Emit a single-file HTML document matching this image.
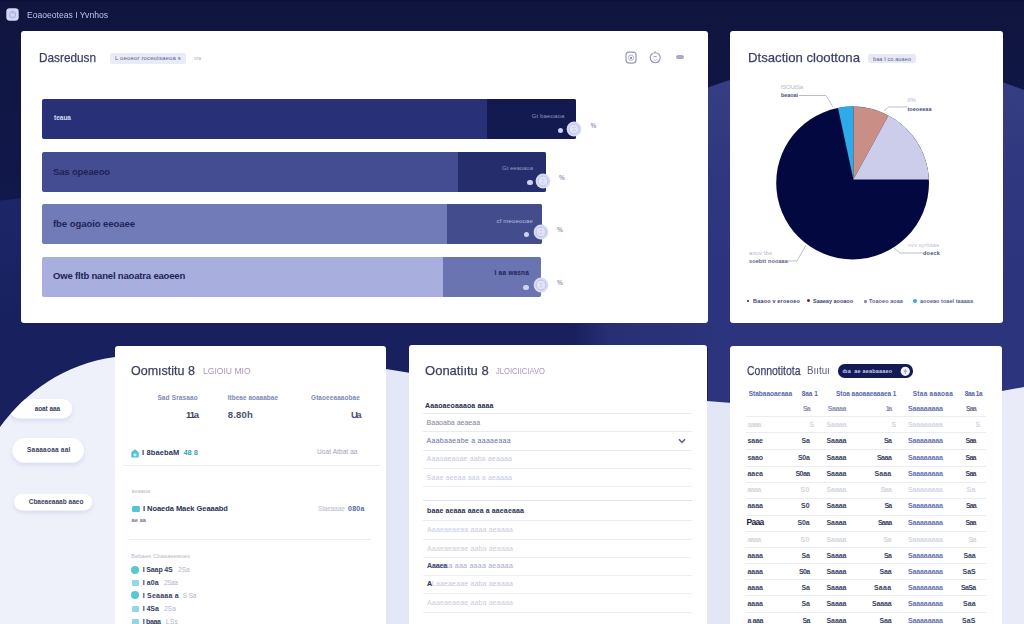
<!DOCTYPE html>
<html><head><meta charset="utf-8">
<style>
*{box-sizing:border-box;margin:0;padding:0}
html,body{width:1024px;height:624px;overflow:hidden}
body{font-family:"Liberation Sans",sans-serif;background:#121744;position:relative;color:#2b2f55}
#bg{position:absolute;left:0;top:0;width:1024px;height:624px}
.t{position:absolute;white-space:pre;line-height:1.12}
.bar{position:absolute;left:42px;height:40.3px;border-radius:2px;overflow:hidden}
.bar i{position:absolute;right:0;top:0;bottom:0;display:block}
</style></head><body>
<svg id="bg" viewBox="0 0 1024 624">
<defs>
<linearGradient id="g0" x1="0" y1="0" x2="0" y2="1"><stop offset="0" stop-color="#0f153e"/><stop offset="1" stop-color="#11184b"/></linearGradient>
<linearGradient id="gs" gradientUnits="userSpaceOnUse" x1="575" y1="0" x2="725" y2="0"><stop offset="0" stop-color="#18215e"/><stop offset="0.22" stop-color="#272f74"/><stop offset="1" stop-color="#2b347d"/></linearGradient>
<linearGradient id="gl" x1="0" y1="0" x2="0" y2="1"><stop offset="0" stop-color="#1d2668"/><stop offset="0.3" stop-color="#18215e"/><stop offset="1" stop-color="#18205c"/></linearGradient>
<linearGradient id="gh" gradientUnits="userSpaceOnUse" x1="0" y1="0" x2="1024" y2="0"><stop offset="0" stop-color="#eff1fa"/><stop offset="0.12" stop-color="#eef0fa"/><stop offset="0.38" stop-color="#e4e7f6"/><stop offset="0.72" stop-color="#e3e6f5"/><stop offset="1" stop-color="#e9ebf8"/></linearGradient>
<linearGradient id="gr" gradientUnits="userSpaceOnUse" x1="0" y1="60" x2="0" y2="270"><stop offset="0" stop-color="#383f84"/><stop offset="0.45" stop-color="#30397f"/><stop offset="1" stop-color="#2b347d"/></linearGradient>
<clipPath id="hc"><path d="M0 427 C 26 392, 64 364, 115 357 C 200 338, 300 352, 386 369 C 500 388, 620 396, 707 401 C 800 409, 900 411, 1002 391 L 1024 387 L1024 624 L0 624Z"/></clipPath>
<filter id="sh" x="-20%" y="-40%" width="140%" height="200%"><feGaussianBlur stdDeviation="2.2"/></filter>
</defs>
<rect width="1024" height="624" fill="#11184b"/>
<rect width="1024" height="200" fill="url(#g0)"/>
<rect width="1024" height="1.5" fill="#0b1034"/>
<path d="M0 200.5 C 8 200, 15 199, 21 198 L 708 198 L708 624 L0 624Z" fill="url(#gl)"/>
<path d="M708 87.5 C 735 78, 790 58, 866 58 C 930 58, 985 75, 1024 90 L1024 624 L708 624Z" fill="url(#gr)"/>
<rect x="0" y="322" width="1024" height="25" fill="url(#gs)"/>
<path d="M0 427 C 26 392, 64 364, 115 357 C 200 338, 300 352, 386 369 C 500 388, 620 396, 707 401 C 800 409, 900 411, 1002 391 L 1024 387 L1024 624 L0 624Z" fill="url(#gh)"/>
<g clip-path="url(#hc)">
<g fill="#8c94c8" opacity="0.22" filter="url(#sh)">
<rect x="9.5" y="401.5" width="62.7" height="19.6" rx="9.8"/>
<rect x="12.3" y="440.5" width="71.7" height="24.8" rx="12.4"/>
<rect x="14" y="496" width="78.4" height="16.8" rx="8.4"/>
</g>
<g fill="#ffffff">
<rect x="9.5" y="399" width="62.7" height="19.6" rx="9.8"/>
<rect x="12.3" y="438" width="71.7" height="24.8" rx="12.4"/>
<rect x="14" y="493.7" width="78.4" height="16.8" rx="8.4"/>
</g>
</g>
</svg>
<svg style="position:absolute;left:5.5px;top:7.5px" width="13" height="13" viewBox="0 0 13 13"><rect x="0.3" y="0.3" width="12.4" height="12.4" rx="3.4" fill="#d3d6f5"/><circle cx="6.5" cy="6.7" r="3" fill="none" stroke="#aeb3e2" stroke-width="1.2"/><rect x="5.9" y="2.6" width="1.2" height="3.4" fill="#aeb3e2"/></svg>
<div class="t" style="left:27.0px;top:9.5px;font-size:9.5px;color:#bcc1e6;transform-origin:0 50%;transform:scaleX(0.904);">Eoaoeoteas I Yvnhos</div>
<div style="position:absolute;left:21.0px;top:31.0px;width:686.5px;height:291.7px;background:#fff;border-radius:3px;"></div>
<div class="t" style="left:39.0px;top:50.4px;font-size:13.5px;color:#3a3f63;transform-origin:0 50%;transform:scaleX(0.873);-webkit-text-stroke:0.25px #3a3f63;">Dasredusn</div>
<div style="position:absolute;left:109.5px;top:53.0px;width:76.5px;height:10.5px;background:#e9ebf6;border-radius:2px;"></div>
<div class="t" style="left:115.0px;top:54.8px;font-size:6px;color:#5d6290;letter-spacing:0.14px;">L oeoeor roceutsaeoa s</div>
<div class="t" style="left:194.0px;top:55.7px;font-size:5px;color:#a9adc8;letter-spacing:0.02px;">vra</div>
<div class="bar" style="top:99px;width:534.3px;background:#283177"><i style="width:88.9px;background:#131a4f"></i></div>
<div class="bar" style="top:151.6px;width:504.0px;background:#454d92"><i style="width:88.3px;background:#252d6c"></i></div>
<div class="bar" style="top:204px;width:499.5px;background:#717bb8"><i style="width:94.2px;background:#434c8c"></i></div>
<div class="bar" style="top:256.8px;width:498.7px;background:#a8aedd"><i style="width:97.9px;background:#6a74b1"></i></div>
<div class="t" style="left:54.0px;top:114.0px;font-size:6.5px;color:#d9dcf2;letter-spacing:0.00px;font-weight:bold;">teaua</div>
<div class="t" style="left:53.0px;top:166.5px;font-size:9.5px;color:#1d2255;letter-spacing:-0.15px;font-weight:bold;">Sas opeaeoo</div>
<div class="t" style="left:53.0px;top:218.9px;font-size:9.5px;color:#1e2358;letter-spacing:-0.05px;font-weight:bold;">fbe ogaoio eeoaee</div>
<div class="t" style="left:53.0px;top:271.0px;font-size:9.5px;color:#1e2358;letter-spacing:-0.18px;font-weight:bold;">Owe fltb nanel naoatra eaoeen</div>
<div class="t" style="left:531.7px;top:112.6px;font-size:6px;color:#8e94c4;letter-spacing:0.14px;">Gt baeoaoa</div>
<div class="t" style="left:502.0px;top:165.1px;font-size:6px;color:#9298c8;letter-spacing:-0.04px;">Gt eeaoaoa</div>
<div class="t" style="left:496.5px;top:217.6px;font-size:6px;color:#b9bee4;letter-spacing:0.16px;">cf meoeooae</div>
<div class="t" style="left:494.6px;top:269.4px;font-size:6.5px;color:#20255a;letter-spacing:0.19px;font-weight:bold;">I aa wasna</div>
<svg style="position:absolute;left:565.3px;top:120.4px" width="18" height="18" viewBox="-9 -9 18 18"><circle r="7.4" fill="#d8dbf4"/><circle r="4.9" fill="#e3e5f8" stroke="#bcc0e8" stroke-width="1"/><path d="M-2 -1.5h4M-2 1.5h4M0 -3v6" stroke="#cfd2f0" stroke-width="0.9"/></svg>
<svg style="position:absolute;left:533.6px;top:172.0px" width="18" height="18" viewBox="-9 -9 18 18"><circle r="7.4" fill="#d8dbf4"/><circle r="4.9" fill="#e3e5f8" stroke="#bcc0e8" stroke-width="1"/><path d="M-2 -1.5h4M-2 1.5h4M0 -3v6" stroke="#cfd2f0" stroke-width="0.9"/></svg>
<svg style="position:absolute;left:531.5px;top:223.4px" width="18" height="18" viewBox="-9 -9 18 18"><circle r="7.4" fill="#d8dbf4"/><circle r="4.9" fill="#e3e5f8" stroke="#bcc0e8" stroke-width="1"/><path d="M-2 -1.5h4M-2 1.5h4M0 -3v6" stroke="#cfd2f0" stroke-width="0.9"/></svg>
<svg style="position:absolute;left:531.5px;top:276.3px" width="18" height="18" viewBox="-9 -9 18 18"><circle r="7.4" fill="#d8dbf4"/><circle r="4.9" fill="#e3e5f8" stroke="#bcc0e8" stroke-width="1"/><path d="M-2 -1.5h4M-2 1.5h4M0 -3v6" stroke="#cfd2f0" stroke-width="0.9"/></svg>
<div style="position:absolute;left:557.8px;top:128.3px;width:5.6px;height:5.0px;background:#ced1f0;border-radius:3px;"></div>
<div style="position:absolute;left:527.0px;top:180.0px;width:5.6px;height:5.0px;background:#ced1f0;border-radius:3px;"></div>
<div style="position:absolute;left:523.6px;top:232.0px;width:5.6px;height:5.0px;background:#ced1f0;border-radius:3px;"></div>
<div style="position:absolute;left:523.2px;top:284.5px;width:5.6px;height:5.0px;background:#ced1f0;border-radius:3px;"></div>
<div class="t" style="left:590.4px;top:122.2px;font-size:6.5px;color:#9599c0;letter-spacing:-0.38px;font-weight:bold;">%</div>
<div class="t" style="left:559.0px;top:173.7px;font-size:6.5px;color:#9599c0;letter-spacing:-0.38px;font-weight:bold;">%</div>
<div class="t" style="left:557.0px;top:226.2px;font-size:6.5px;color:#9599c0;letter-spacing:-0.38px;font-weight:bold;">%</div>
<div class="t" style="left:557.0px;top:278.5px;font-size:6.5px;color:#9599c0;letter-spacing:-0.38px;font-weight:bold;">%</div>
<svg style="position:absolute;left:624px;top:50px" width="66" height="16" viewBox="624 50 66 16" fill="none" stroke="#9397b8" stroke-width="1.15"><rect x="626" y="52.1" width="10" height="11" rx="3"/><circle cx="631" cy="57.7" r="2.6" stroke-width="0.9" stroke="#a9acc8"/><circle cx="631" cy="57.9" r="1.1" fill="#8084ab" stroke="none"/><circle cx="655.2" cy="57.7" r="5"/><path d="M655.2 51.2v1.6M653.6 56.6h3.2" stroke-width="0.9"/><path d="M652.6 59.6 q2.6 1.6 5.2 0" stroke-width="0.7" stroke="#b5b8d0"/></svg>
<div style="position:absolute;left:676.0px;top:54.6px;width:8.0px;height:4.2px;background:#9a9ec0;border-radius:2px;opacity:.85;"></div>
<div style="position:absolute;left:729.8px;top:31.0px;width:272.8px;height:291.7px;background:#fff;border-radius:3px;"></div>
<div class="t" style="left:747.7px;top:50.4px;font-size:13.5px;color:#3a3f66;transform-origin:0 50%;transform:scaleX(0.975);-webkit-text-stroke:0.25px #3a3f66;">Dtsaction cloottona</div>
<div style="position:absolute;left:868.0px;top:53.6px;width:47.8px;height:9.8px;background:#e6e8f4;border-radius:2px;"></div>
<div class="t" style="left:873.0px;top:55.5px;font-size:5.5px;color:#5d6290;letter-spacing:0.12px;">baa I co.auaeo</div>
<svg style="position:absolute;left:730px;top:70px" width="272" height="250" viewBox="730 70 272 250">
<circle cx="852.6" cy="183" r="76.4" fill="#040840"/>
<path d="M853.4 179.6 L838 108 A76.4 76.4 0 0 1 853.6 106.6 Z" fill="#2caae9"/>
<path d="M853.4 179.6 L853.6 106.6 A76.4 76.4 0 0 1 888.5 115.5 Z" fill="#c98f86"/>
<path d="M853.4 179.6 L888.5 115.5 A76.4 76.4 0 0 1 928.9 179.6 Z" fill="#cbcdea"/>
<g fill="none" stroke="#9aa0b8" stroke-width="0.7">
<path d="M799 95.5 H826 L833 107"/>
<path d="M884 111 L888.5 107 H907"/>
<path d="M894 248 L900 253 H923"/>
<path d="M788 261 H797 L806 245"/>
</g>
</svg>
<div class="t" style="left:781.0px;top:83.6px;font-size:6px;color:#b3b6cc;letter-spacing:-0.19px;">lSOUtSa</div>
<div class="t" style="left:781.0px;top:91.9px;font-size:5.5px;color:#4a4f78;letter-spacing:-0.07px;font-weight:bold;">beaoai</div>
<div class="t" style="left:907.5px;top:96.6px;font-size:6px;color:#b3b6cc;letter-spacing:0.05px;">lI%</div>
<div class="t" style="left:907.5px;top:105.9px;font-size:5.5px;color:#4a4f78;letter-spacing:0.02px;font-weight:bold;">toeoeeaa</div>
<div class="t" style="left:908.0px;top:241.6px;font-size:6px;color:#c3c6d8;letter-spacing:-0.06px;">vvv syrltaaa</div>
<div class="t" style="left:923.0px;top:249.9px;font-size:5.5px;color:#4a4f78;letter-spacing:0.22px;font-weight:bold;">doeck</div>
<div class="t" style="left:749.0px;top:249.6px;font-size:6px;color:#b3b6cc;letter-spacing:0.08px;">avuv tbs</div>
<div class="t" style="left:749.0px;top:257.9px;font-size:5.5px;color:#5a5f88;letter-spacing:0.13px;font-weight:bold;">soebtt nooaaa</div>
<div style="position:absolute;left:746.8px;top:299.6px;width:2.6px;height:2.8px;background:#1a1f5a;border-radius:1px;"></div>
<div class="t" style="left:753.0px;top:297.9px;font-size:5.5px;color:#3d4270;letter-spacing:0.18px;font-weight:bold;">Baaoo v eroeoeo</div>
<div style="position:absolute;left:806.6px;top:299.4px;width:3.0px;height:3.0px;background:#7a1f4a;border-radius:1.5px;"></div>
<div class="t" style="left:813.0px;top:297.9px;font-size:5.5px;color:#3d4270;letter-spacing:-0.00px;font-weight:bold;">Saaeay aooaoo</div>
<div style="position:absolute;left:864.2px;top:299.5px;width:2.6px;height:3.0px;background:#8a8ea8;border-radius:1px;"></div>
<div class="t" style="left:869.0px;top:297.9px;font-size:5.5px;color:#5a5f88;letter-spacing:0.07px;font-weight:bold;">Toaoeo aoaa</div>
<div style="position:absolute;left:912.8px;top:298.8px;width:4.4px;height:4.4px;background:#2caae9;border-radius:2.2px;"></div>
<div class="t" style="left:920.0px;top:297.9px;font-size:5.5px;color:#5a5f88;letter-spacing:0.04px;font-weight:bold;">aooeao toael taaaaa</div>
<div style="position:absolute;left:115.2px;top:345.6px;width:271.2px;height:290.0px;background:#fff;border-radius:3px;"></div>
<div class="t" style="left:131.0px;top:362.9px;font-size:13.5px;color:#3a3f60;transform-origin:0 50%;transform:scaleX(0.927);-webkit-text-stroke:0.25px #3a3f60;">Oomıstitu 8</div>
<div class="t" style="left:203.0px;top:365.5px;font-size:9.5px;color:#ae93c3;transform-origin:0 50%;transform:scaleX(0.902);">LGIOIU MIO</div>
<div class="t" style="left:157.4px;top:394.4px;font-size:6.5px;color:#7f88b8;letter-spacing:0.14px;font-weight:bold;">Sad Srasaao</div>
<div class="t" style="left:227.8px;top:394.4px;font-size:6.5px;color:#7f88b8;letter-spacing:-0.00px;font-weight:bold;">Itbeae aoaaabae</div>
<div class="t" style="left:311.0px;top:394.4px;font-size:6.5px;color:#7f88b8;letter-spacing:0.07px;font-weight:bold;">Gtaoeeaaaobae</div>
<div class="t" style="left:186.0px;top:409.5px;font-size:9.5px;color:#3f4468;letter-spacing:-1.11px;font-weight:bold;">11a</div>
<div class="t" style="left:227.8px;top:409.5px;font-size:9.5px;color:#4a4f74;letter-spacing:0.18px;font-weight:bold;">8.80h</div>
<div class="t" style="left:351.0px;top:409.5px;font-size:9.5px;color:#4a4f74;letter-spacing:-1.57px;font-weight:bold;">Ua</div>
<svg style="position:absolute;left:131px;top:448.6px" width="8" height="9" viewBox="0 0 8 9"><path d="M4 0.3 L7.7 3.2 V8.6 H0.3 V3.2Z" fill="#4fc3d6"/><rect x="2.6" y="4.6" width="2.8" height="2.6" fill="#d8f3f7"/></svg>
<div class="t" style="left:142.0px;top:448.8px;font-size:7.5px;color:#2f3560;letter-spacing:0.13px;font-weight:bold;">I 8baebaM</div>
<div class="t" style="left:183.5px;top:448.8px;font-size:7.5px;color:#3aa0b8;letter-spacing:-0.10px;font-weight:bold;">48 8</div>
<div class="t" style="left:317.0px;top:448.4px;font-size:6.5px;color:#a0a4bc;letter-spacing:0.09px;">Uoat Atbat aa</div>
<div style="position:absolute;left:122.5px;top:464.5px;width:257.0px;height:1.0px;background:#ecedf4;border-radius:0px;"></div>
<div class="t" style="left:131.6px;top:487.6px;font-size:5.5px;color:#b4b7ca;letter-spacing:0.01px;">aeaaoa</div>
<div style="position:absolute;left:131.6px;top:506.2px;width:8.4px;height:5.6px;background:#56c4d4;border-radius:1.5px;"></div>
<div class="t" style="left:143.0px;top:504.8px;font-size:7.5px;color:#2b3058;letter-spacing:-0.05px;font-weight:bold;">I Noaeda Maek Geaaabd</div>
<div class="t" style="left:318.0px;top:505.4px;font-size:6.5px;color:#b9bccd;letter-spacing:-0.15px;">Staeaaae</div>
<div class="t" style="left:348.0px;top:505.1px;font-size:7px;color:#5866ad;letter-spacing:0.28px;font-weight:bold;">080a</div>
<div class="t" style="left:131.6px;top:516.9px;font-size:5.5px;color:#6a6f8c;letter-spacing:0.13px;font-weight:bold;">ae aa</div>
<div style="position:absolute;left:129.0px;top:538.5px;width:242.0px;height:1.0px;background:#ecedf4;border-radius:0px;"></div>
<div class="t" style="left:131.0px;top:553.3px;font-size:6px;color:#b9bccd;letter-spacing:-0.02px;">Bebaes Cbaaaeeaoes</div>
<div style="position:absolute;left:131.0px;top:566.0px;width:8.0px;height:8.0px;background:#57c8cf;border-radius:4px;"></div>
<div class="t" style="left:142.7px;top:566.1px;font-size:7px;color:#363b62;letter-spacing:-0.13px;font-weight:bold;">I Saap 4S</div>
<div class="t" style="left:178.0px;top:566.4px;font-size:6.5px;color:#b0b4c8;letter-spacing:0.05px;">2Sa</div>
<div style="position:absolute;left:131.6px;top:579.8px;width:7.0px;height:6.0px;background:#8fd8e6;border-radius:1.2px;"></div>
<div class="t" style="left:142.7px;top:578.9px;font-size:7px;color:#363b62;letter-spacing:0.11px;font-weight:bold;">I a0a</div>
<div class="t" style="left:164.0px;top:579.2px;font-size:6.5px;color:#b0b4c8;letter-spacing:-0.47px;">2Saa</div>
<div style="position:absolute;left:131.0px;top:591.4px;width:8.0px;height:8.0px;background:#57c8cf;border-radius:4px;"></div>
<div class="t" style="left:142.7px;top:591.5px;font-size:7px;color:#363b62;letter-spacing:0.24px;font-weight:bold;">I Seaaaa a</div>
<div class="t" style="left:182.7px;top:591.8px;font-size:6.5px;color:#b0b4c8;letter-spacing:-0.10px;">S Sa</div>
<div style="position:absolute;left:131.6px;top:605.8px;width:7.0px;height:6.0px;background:#8fd8e6;border-radius:1.2px;"></div>
<div class="t" style="left:142.7px;top:604.9px;font-size:7px;color:#363b62;letter-spacing:-0.05px;font-weight:bold;">I 4Sa</div>
<div class="t" style="left:164.0px;top:605.2px;font-size:6.5px;color:#b0b4c8;letter-spacing:0.15px;">2Sa</div>
<div style="position:absolute;left:131.6px;top:618.7px;width:7.0px;height:6.0px;background:#8fd8e6;border-radius:1.2px;"></div>
<div class="t" style="left:142.7px;top:617.8px;font-size:7px;color:#363b62;letter-spacing:-0.32px;font-weight:bold;">I baaa</div>
<div class="t" style="left:166.0px;top:618.1px;font-size:6.5px;color:#b0b4c8;letter-spacing:0.27px;">LSs</div>
<div style="position:absolute;left:409.0px;top:345.0px;width:298.0px;height:290.0px;background:#fff;border-radius:3px;"></div>
<div class="t" style="left:425.0px;top:362.9px;font-size:13.5px;color:#3a3f60;transform-origin:0 50%;transform:scaleX(0.965);-webkit-text-stroke:0.25px #3a3f60;">Oonatiıtu 8</div>
<div class="t" style="left:496.0px;top:365.5px;font-size:9.5px;color:#ae93c3;transform-origin:0 50%;transform:scaleX(0.803);">JLOICIICIAVO</div>
<div class="t" style="left:425.0px;top:401.7px;font-size:7px;color:#262b4f;letter-spacing:0.11px;font-weight:bold;">Aaaoaeoaaaoa aaaa</div>
<div style="position:absolute;left:423.0px;top:413.4px;width:268.7px;height:1.0px;background:#e9eaf3;border-radius:0px;"></div>
<div class="t" style="left:426.6px;top:419.1px;font-size:7px;color:#7d8199;letter-spacing:0.01px;">Baaoaba aeaeaa</div>
<div style="position:absolute;left:423.0px;top:431.2px;width:268.7px;height:1.0px;background:#e9eaf3;border-radius:0px;"></div>
<div class="t" style="left:426.6px;top:436.9px;font-size:7px;color:#6a71a0;letter-spacing:0.27px;">Aaabaaeabe a aaaaeaaa</div>
<svg style="position:absolute;left:677.5px;top:437.5px" width="8" height="6" viewBox="0 0 8 6"><path d="M1 1.2 L4 4.4 L7 1.2" fill="none" stroke="#5a5f8c" stroke-width="1.5"/></svg>
<div style="position:absolute;left:423.0px;top:449.5px;width:268.7px;height:1.0px;background:#e9eaf3;border-radius:0px;"></div>
<div class="t" style="left:426.6px;top:455.1px;font-size:7px;color:#c3c7df;letter-spacing:0.13px;">Aaaoaeaoae aaba aeaaaa</div>
<div style="position:absolute;left:423.0px;top:467.5px;width:268.7px;height:1.0px;background:#eeeff5;border-radius:0px;"></div>
<div class="t" style="left:426.6px;top:473.5px;font-size:7px;color:#c6cadf;letter-spacing:0.13px;">Saae aeeaa aaa a aeaaaa</div>
<div style="position:absolute;left:423.0px;top:486.2px;width:268.7px;height:1.0px;background:#eeeff5;border-radius:0px;"></div>
<div style="position:absolute;left:423.0px;top:500.3px;width:268.7px;height:1.0px;background:#dfe1ec;border-radius:0px;"></div>
<div class="t" style="left:427.0px;top:507.1px;font-size:7px;color:#2b3056;letter-spacing:0.12px;font-weight:bold;">baae aeaaa aaea a aaeaeaaa</div>
<div style="position:absolute;left:423.0px;top:520.2px;width:268.7px;height:1.0px;background:#e9eaf3;border-radius:0px;"></div>
<div class="t" style="left:427.0px;top:526.1px;font-size:7px;color:#c6cadf;letter-spacing:0.16px;">Aaaeaeaeaa aaaa aeaaaa</div>
<div style="position:absolute;left:423.0px;top:538.9px;width:268.7px;height:1.0px;background:#eeeff5;border-radius:0px;"></div>
<div class="t" style="left:427.0px;top:544.6px;font-size:7px;color:#c9cde0;letter-spacing:0.16px;">Aaaeaeaeae aaba aeaaaa</div>
<div style="position:absolute;left:423.0px;top:556.8px;width:268.7px;height:1.0px;background:#eeeff5;border-radius:0px;"></div>
<div class="t" style="left:427.0px;top:562.1px;font-size:7px;color:#a4a9cc;letter-spacing:0.25px;">Aaaeaa aaa aaaa aeaaaa</div>
<div class="t" style="left:427.0px;top:562.1px;font-size:7px;color:#4a4f78;letter-spacing:-0.13px;font-weight:bold;">Aaaea</div>
<div style="position:absolute;left:423.0px;top:575.0px;width:268.7px;height:1.0px;background:#eeeff5;border-radius:0px;"></div>
<div class="t" style="left:427.0px;top:580.4px;font-size:7px;color:#c3c7df;letter-spacing:0.16px;">ALaaeaeaae aaba aeaaaa</div>
<div class="t" style="left:427.0px;top:580.4px;font-size:7px;color:#2b3056;letter-spacing:-0.06px;font-weight:bold;">A</div>
<div style="position:absolute;left:423.0px;top:592.9px;width:268.7px;height:1.0px;background:#eeeff5;border-radius:0px;"></div>
<div class="t" style="left:427.0px;top:598.8px;font-size:7px;color:#c9cde0;letter-spacing:0.16px;">Aaaeaeaeae aaba aeaaaa</div>
<div style="position:absolute;left:423.0px;top:611.5px;width:268.7px;height:1.0px;background:#eeeff5;border-radius:0px;"></div>
<div style="position:absolute;left:730.0px;top:345.6px;width:272.3px;height:290.0px;background:#fff;border-radius:3px;"></div>
<div class="t" style="left:747.4px;top:362.8px;font-size:13.5px;color:#3f446c;transform-origin:0 50%;transform:scaleX(0.776);-webkit-text-stroke:0.25px #3f446c;">Connotitota</div>
<div class="t" style="left:807.0px;top:364.4px;font-size:11px;color:#555a7a;transform-origin:0 50%;transform:scaleX(0.888);">Bııtuı</div>
<div style="position:absolute;left:838.4px;top:364.3px;width:74.4px;height:13.4px;background:#141a56;border-radius:6.7px;"></div>
<div class="t" style="left:842.4px;top:367.9px;font-size:5.5px;color:#c9cdf0;letter-spacing:0.19px;font-weight:bold;">ıba  ae aeabaaaeo</div>
<svg style="position:absolute;left:900px;top:366px" width="10.6" height="10.6" viewBox="-5.3 -5.3 10.6 10.6"><circle r="4.6" fill="#f2f3fb"/><path d="M0 -2.4v4.8M-1.6 0h3.2" stroke="#8e94c4" stroke-width="0.9" fill="none"/></svg>
<div class="t" style="left:748.7px;top:390.1px;font-size:6.5px;color:#5a64ab;letter-spacing:-0.00px;font-weight:bold;">Stabaaoaeaaa</div>
<div class="t" style="left:801.7px;top:390.1px;font-size:6.5px;color:#5a64ab;letter-spacing:-0.03px;font-weight:bold;">8aa 1</div>
<div class="t" style="left:836.0px;top:390.1px;font-size:6.5px;color:#5a64ab;letter-spacing:-0.06px;font-weight:bold;">Stoa aaoaaeaaaea 1</div>
<div class="t" style="left:912.8px;top:390.1px;font-size:6.5px;color:#5a64ab;letter-spacing:0.24px;font-weight:bold;">Staa aaaoaa</div>
<div class="t" style="left:964.7px;top:390.1px;font-size:6.5px;color:#5a64ab;letter-spacing:-0.38px;font-weight:bold;">8aa 1a</div>
<div style="position:absolute;left:746.0px;top:415.9px;width:239.5px;height:1.0px;background:#ebecf3;border-radius:0px;"></div>
<div style="position:absolute;left:746.0px;top:432.3px;width:239.5px;height:1.0px;background:#ebecf3;border-radius:0px;"></div>
<div style="position:absolute;left:746.0px;top:448.9px;width:239.5px;height:1.0px;background:#ebecf3;border-radius:0px;"></div>
<div style="position:absolute;left:746.0px;top:465.5px;width:239.5px;height:1.0px;background:#ebecf3;border-radius:0px;"></div>
<div style="position:absolute;left:746.0px;top:481.5px;width:239.5px;height:1.0px;background:#ebecf3;border-radius:0px;"></div>
<div style="position:absolute;left:746.0px;top:497.9px;width:239.5px;height:1.0px;background:#ebecf3;border-radius:0px;"></div>
<div style="position:absolute;left:746.0px;top:514.5px;width:239.5px;height:1.0px;background:#ebecf3;border-radius:0px;"></div>
<div style="position:absolute;left:746.0px;top:530.8px;width:239.5px;height:1.0px;background:#ebecf3;border-radius:0px;"></div>
<div style="position:absolute;left:746.0px;top:547.1px;width:239.5px;height:1.0px;background:#ebecf3;border-radius:0px;"></div>
<div style="position:absolute;left:746.0px;top:562.9px;width:239.5px;height:1.0px;background:#ebecf3;border-radius:0px;"></div>
<div style="position:absolute;left:746.0px;top:579.2px;width:239.5px;height:1.0px;background:#ebecf3;border-radius:0px;"></div>
<div style="position:absolute;left:746.0px;top:595.3px;width:239.5px;height:1.0px;background:#ebecf3;border-radius:0px;"></div>
<div style="position:absolute;left:746.0px;top:611.5px;width:239.5px;height:1.0px;background:#ebecf3;border-radius:0px;"></div>
<div class="t" style="left:803.0px;top:404.8px;font-size:7px;color:#8a8ea8;letter-spacing:-1.03px;font-weight:bold;">Sa</div>
<div class="t" style="left:827.7px;top:404.8px;font-size:7px;color:#8a8eb0;letter-spacing:-0.41px;font-weight:bold;">Saaaa</div>
<div class="t" style="left:885.7px;top:404.8px;font-size:7px;color:#8a8ea8;letter-spacing:-1.44px;font-weight:bold;">1a</div>
<div class="t" style="left:908.0px;top:404.8px;font-size:7px;color:#6670b3;letter-spacing:-0.12px;font-weight:bold;">Saaaaaaaa</div>
<div class="t" style="left:966.0px;top:404.8px;font-size:7px;color:#6a6f90;letter-spacing:-0.95px;font-weight:bold;">Saa</div>
<div class="t" style="left:747.4px;top:420.8px;font-size:7px;color:#d3d5e2;letter-spacing:-0.64px;font-weight:bold;">saaa</div>
<div class="t" style="left:809.5px;top:420.8px;font-size:7px;color:#d3d5e2;letter-spacing:-4.67px;font-weight:bold;">S</div>
<div class="t" style="left:826.5px;top:420.8px;font-size:7px;color:#d3d5e2;letter-spacing:-0.07px;font-weight:bold;">Saaaa</div>
<div class="t" style="left:891.4px;top:420.8px;font-size:7px;color:#d3d5e2;letter-spacing:-4.67px;font-weight:bold;">S</div>
<div class="t" style="left:908.0px;top:420.8px;font-size:7px;color:#d3d6ea;letter-spacing:-0.12px;font-weight:bold;">Saaaaaaaa</div>
<div class="t" style="left:975.6px;top:420.8px;font-size:7px;color:#d3d5e2;letter-spacing:-4.67px;font-weight:bold;">S</div>
<div class="t" style="left:747.4px;top:436.9px;font-size:7px;color:#3a3f63;letter-spacing:-0.02px;font-weight:bold;">saae</div>
<div class="t" style="left:801.5px;top:436.9px;font-size:7px;color:#3a3f63;letter-spacing:-0.28px;font-weight:bold;">Sa</div>
<div class="t" style="left:826.5px;top:436.9px;font-size:7px;color:#3a3f63;letter-spacing:-0.07px;font-weight:bold;">Saaaa</div>
<div class="t" style="left:883.9px;top:436.9px;font-size:7px;color:#3a3f63;letter-spacing:-0.53px;font-weight:bold;">Sa</div>
<div class="t" style="left:908.0px;top:436.9px;font-size:7px;color:#6670b3;letter-spacing:-0.12px;font-weight:bold;">Saaaaaaaa</div>
<div class="t" style="left:965.6px;top:436.9px;font-size:7px;color:#3a3f63;letter-spacing:-0.82px;font-weight:bold;">Saa</div>
<div class="t" style="left:747.4px;top:453.5px;font-size:7px;color:#3a3f63;letter-spacing:-0.11px;font-weight:bold;">saao</div>
<div class="t" style="left:798.0px;top:453.5px;font-size:7px;color:#3a3f63;letter-spacing:-0.32px;font-weight:bold;">S0a</div>
<div class="t" style="left:826.5px;top:453.5px;font-size:7px;color:#3a3f63;letter-spacing:-0.07px;font-weight:bold;">Saaaa</div>
<div class="t" style="left:876.9px;top:453.5px;font-size:7px;color:#3a3f63;letter-spacing:-0.46px;font-weight:bold;">Saaa</div>
<div class="t" style="left:908.0px;top:453.5px;font-size:7px;color:#6670b3;letter-spacing:-0.12px;font-weight:bold;">Saaaaaaaa</div>
<div class="t" style="left:965.6px;top:453.5px;font-size:7px;color:#3a3f63;letter-spacing:-0.82px;font-weight:bold;">Saa</div>
<div class="t" style="left:747.4px;top:470.1px;font-size:7px;color:#3a3f63;letter-spacing:-0.02px;font-weight:bold;">aaea</div>
<div class="t" style="left:795.5px;top:470.1px;font-size:7px;color:#3a3f63;letter-spacing:-0.59px;font-weight:bold;">S0aa</div>
<div class="t" style="left:826.5px;top:470.1px;font-size:7px;color:#3a3f63;letter-spacing:-0.07px;font-weight:bold;">Saaaa</div>
<div class="t" style="left:874.4px;top:470.1px;font-size:7px;color:#3a3f63;letter-spacing:0.16px;font-weight:bold;">Saaa</div>
<div class="t" style="left:908.0px;top:470.1px;font-size:7px;color:#6670b3;letter-spacing:-0.12px;font-weight:bold;">Saaaaaaaa</div>
<div class="t" style="left:965.6px;top:470.1px;font-size:7px;color:#3a3f63;letter-spacing:-0.82px;font-weight:bold;">Saa</div>
<div class="t" style="left:747.4px;top:486.1px;font-size:7px;color:#d3d5e2;letter-spacing:-0.64px;font-weight:bold;">aaaa</div>
<div class="t" style="left:800.5px;top:486.1px;font-size:7px;color:#d3d5e2;letter-spacing:0.22px;font-weight:bold;">S0</div>
<div class="t" style="left:826.5px;top:486.1px;font-size:7px;color:#d3d5e2;letter-spacing:-0.07px;font-weight:bold;">Saaaa</div>
<div class="t" style="left:880.4px;top:486.1px;font-size:7px;color:#d3d5e2;letter-spacing:-0.48px;font-weight:bold;">Saa</div>
<div class="t" style="left:908.0px;top:486.1px;font-size:7px;color:#d3d6ea;letter-spacing:-0.12px;font-weight:bold;">Saaaaaaaa</div>
<div class="t" style="left:966.6px;top:486.1px;font-size:7px;color:#d3d5e2;letter-spacing:0.22px;font-weight:bold;">Sa</div>
<div class="t" style="left:747.4px;top:502.1px;font-size:7px;color:#3a3f63;letter-spacing:-0.02px;font-weight:bold;">aaaa</div>
<div class="t" style="left:801.0px;top:502.1px;font-size:7px;color:#3a3f63;letter-spacing:-0.03px;font-weight:bold;">S0</div>
<div class="t" style="left:826.5px;top:502.1px;font-size:7px;color:#3a3f63;letter-spacing:-0.07px;font-weight:bold;">Saaaa</div>
<div class="t" style="left:884.4px;top:502.1px;font-size:7px;color:#3a3f63;letter-spacing:-0.78px;font-weight:bold;">Sa</div>
<div class="t" style="left:908.0px;top:502.1px;font-size:7px;color:#6670b3;letter-spacing:-0.12px;font-weight:bold;">Saaaaaaaa</div>
<div class="t" style="left:966.1px;top:502.1px;font-size:7px;color:#3a3f63;letter-spacing:-0.98px;font-weight:bold;">Saa</div>
<div class="t" style="left:746.5px;top:517.9px;font-size:8.5px;color:#1c2040;letter-spacing:-0.71px;font-weight:bold;">Paaa</div>
<div class="t" style="left:797.5px;top:518.8px;font-size:7px;color:#3a3f63;letter-spacing:-0.15px;font-weight:bold;">S0a</div>
<div class="t" style="left:826.5px;top:518.8px;font-size:7px;color:#3a3f63;letter-spacing:-0.07px;font-weight:bold;">Saaaa</div>
<div class="t" style="left:877.9px;top:518.8px;font-size:7px;color:#3a3f63;letter-spacing:-0.71px;font-weight:bold;">Saaa</div>
<div class="t" style="left:908.0px;top:518.8px;font-size:7px;color:#6670b3;letter-spacing:-0.12px;font-weight:bold;">Saaaaaaaa</div>
<div class="t" style="left:965.6px;top:518.8px;font-size:7px;color:#3a3f63;letter-spacing:-0.82px;font-weight:bold;">Saa</div>
<div class="t" style="left:747.4px;top:535.7px;font-size:7px;color:#d3d5e2;letter-spacing:-0.64px;font-weight:bold;">aaaa</div>
<div class="t" style="left:800.5px;top:535.7px;font-size:7px;color:#d3d5e2;letter-spacing:0.22px;font-weight:bold;">S0</div>
<div class="t" style="left:826.5px;top:535.7px;font-size:7px;color:#d3d5e2;letter-spacing:-0.07px;font-weight:bold;">Saaaa</div>
<div class="t" style="left:883.4px;top:535.7px;font-size:7px;color:#d3d5e2;letter-spacing:-0.28px;font-weight:bold;">Sa</div>
<div class="t" style="left:908.0px;top:535.7px;font-size:7px;color:#d3d6ea;letter-spacing:-0.12px;font-weight:bold;">Saaaaaaaa</div>
<div class="t" style="left:968.6px;top:535.7px;font-size:7px;color:#d3d5e2;letter-spacing:-0.78px;font-weight:bold;">Sa</div>
<div class="t" style="left:747.4px;top:551.7px;font-size:7px;color:#3a3f63;letter-spacing:-0.02px;font-weight:bold;">aaaa</div>
<div class="t" style="left:801.5px;top:551.7px;font-size:7px;color:#3a3f63;letter-spacing:-0.28px;font-weight:bold;">Sa</div>
<div class="t" style="left:826.5px;top:551.7px;font-size:7px;color:#3a3f63;letter-spacing:-0.07px;font-weight:bold;">Saaaa</div>
<div class="t" style="left:883.9px;top:551.7px;font-size:7px;color:#3a3f63;letter-spacing:-0.53px;font-weight:bold;">Sa</div>
<div class="t" style="left:908.0px;top:551.7px;font-size:7px;color:#6670b3;letter-spacing:-0.12px;font-weight:bold;">Saaaaaaaa</div>
<div class="t" style="left:963.6px;top:551.7px;font-size:7px;color:#3a3f63;letter-spacing:-0.15px;font-weight:bold;">Saa</div>
<div class="t" style="left:747.4px;top:567.8px;font-size:7px;color:#3a3f63;letter-spacing:-0.02px;font-weight:bold;">aaaa</div>
<div class="t" style="left:799.0px;top:567.8px;font-size:7px;color:#3a3f63;letter-spacing:-0.65px;font-weight:bold;">S0a</div>
<div class="t" style="left:826.5px;top:567.8px;font-size:7px;color:#3a3f63;letter-spacing:-0.07px;font-weight:bold;">Saaaa</div>
<div class="t" style="left:879.4px;top:567.8px;font-size:7px;color:#3a3f63;letter-spacing:-0.15px;font-weight:bold;">Saa</div>
<div class="t" style="left:908.0px;top:567.8px;font-size:7px;color:#6670b3;letter-spacing:-0.12px;font-weight:bold;">Saaaaaaaa</div>
<div class="t" style="left:962.6px;top:567.8px;font-size:7px;color:#3a3f63;letter-spacing:-0.08px;font-weight:bold;">SaS</div>
<div class="t" style="left:747.4px;top:583.8px;font-size:7px;color:#3a3f63;letter-spacing:-0.02px;font-weight:bold;">aaaa</div>
<div class="t" style="left:801.5px;top:583.8px;font-size:7px;color:#3a3f63;letter-spacing:-0.28px;font-weight:bold;">Sa</div>
<div class="t" style="left:826.5px;top:583.8px;font-size:7px;color:#3a3f63;letter-spacing:-0.07px;font-weight:bold;">Saaaa</div>
<div class="t" style="left:873.9px;top:583.8px;font-size:7px;color:#3a3f63;letter-spacing:0.29px;font-weight:bold;">Saaa</div>
<div class="t" style="left:908.0px;top:583.8px;font-size:7px;color:#6670b3;letter-spacing:-0.12px;font-weight:bold;">Saaaaaaaa</div>
<div class="t" style="left:961.1px;top:583.8px;font-size:7px;color:#3a3f63;letter-spacing:-0.66px;font-weight:bold;">SaSa</div>
<div class="t" style="left:747.4px;top:599.9px;font-size:7px;color:#3a3f63;letter-spacing:-0.02px;font-weight:bold;">aaaa</div>
<div class="t" style="left:801.5px;top:599.9px;font-size:7px;color:#3a3f63;letter-spacing:-0.28px;font-weight:bold;">Sa</div>
<div class="t" style="left:826.5px;top:599.9px;font-size:7px;color:#3a3f63;letter-spacing:-0.07px;font-weight:bold;">Saaaa</div>
<div class="t" style="left:871.9px;top:599.9px;font-size:7px;color:#3a3f63;letter-spacing:-0.15px;font-weight:bold;">Saaaa</div>
<div class="t" style="left:908.0px;top:599.9px;font-size:7px;color:#6670b3;letter-spacing:-0.12px;font-weight:bold;">Saaaaaaaa</div>
<div class="t" style="left:963.1px;top:599.9px;font-size:7px;color:#3a3f63;letter-spacing:0.02px;font-weight:bold;">Saa</div>
<div class="t" style="left:747.4px;top:616.5px;font-size:7px;color:#3a3f63;letter-spacing:-0.40px;font-weight:bold;">a aaa</div>
<div class="t" style="left:802.5px;top:616.5px;font-size:7px;color:#3a3f63;letter-spacing:-0.78px;font-weight:bold;">Sa</div>
<div class="t" style="left:826.5px;top:616.5px;font-size:7px;color:#3a3f63;letter-spacing:-0.07px;font-weight:bold;">Saaaa</div>
<div class="t" style="left:879.4px;top:616.5px;font-size:7px;color:#3a3f63;letter-spacing:-0.15px;font-weight:bold;">Saa</div>
<div class="t" style="left:908.0px;top:616.5px;font-size:7px;color:#6670b3;letter-spacing:-0.12px;font-weight:bold;">Saaaaaaaa</div>
<div class="t" style="left:962.1px;top:616.5px;font-size:7px;color:#3a3f63;letter-spacing:0.09px;font-weight:bold;">SaS</div>
<div class="t" style="left:34.7px;top:404.6px;font-size:6.5px;color:#3a3f63;letter-spacing:-0.09px;font-weight:bold;">aoat aaa</div>
<div class="t" style="left:27.0px;top:446.4px;font-size:6.5px;color:#3a3f63;letter-spacing:0.23px;font-weight:bold;">Saaaaoaa aal</div>
<div class="t" style="left:28.7px;top:498.0px;font-size:6.5px;color:#3a3f63;letter-spacing:0.01px;font-weight:bold;">Cbaeaeaaab aaeo</div>
</body></html>
